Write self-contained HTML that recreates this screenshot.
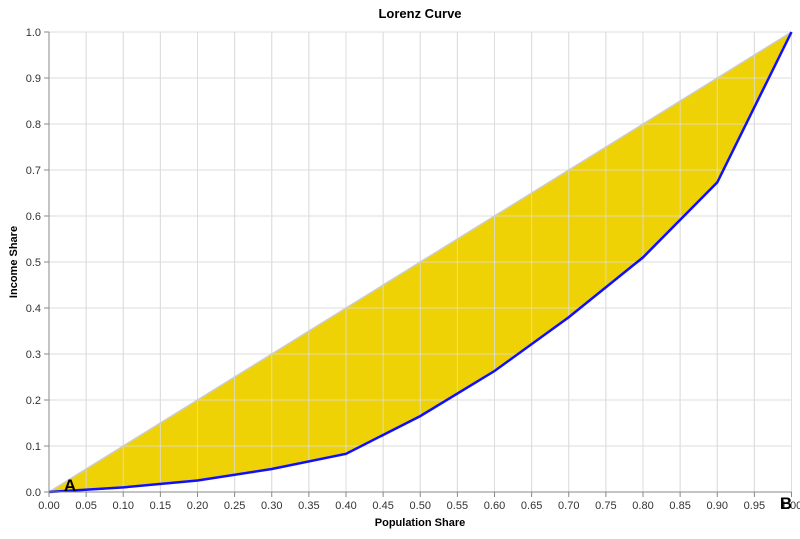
<!DOCTYPE html>
<html><head><meta charset="utf-8"><style>
body{margin:0;background:#fff;font-family:"Liberation Sans",sans-serif}
svg text{font-family:"Liberation Sans",sans-serif}
</style></head><body>
<svg id="chart" width="800" height="534">
<text x="420" y="18" text-anchor="middle" font-size="13" font-weight="bold" fill="#000">Lorenz Curve</text>
<g id="grid"></g>
<g id="marks"></g>
<g id="axes"></g>
<text x="420" y="526" text-anchor="middle" font-size="11" font-weight="bold">Population Share</text>
<text transform="translate(17,262) rotate(-90)" text-anchor="middle" font-size="11" font-weight="bold">Income Share</text>
</svg>
<script>
const popShare=[0,0.1,0.2,0.3,0.4,0.5,0.6,0.7,0.8,0.9,1.0];
const incomeShare=[0,0.01,0.025,0.05,0.083,0.165,0.263,0.38,0.51,0.673,1.0];
const xTicks=[0,0.05,0.1,0.15,0.2,0.25,0.3,0.35,0.4,0.45,0.5,0.55,0.6,0.65,0.7,0.75,0.8,0.85,0.9,0.95,1.0];
const yTicks=[0,0.1,0.2,0.3,0.4,0.5,0.6,0.7,0.8,0.9,1.0];
const X0=49,X1=791.5,Y0=492,Y1=32;
const sx=v=>X0+v*(X1-X0), sy=v=>Y0-v*(Y0-Y1);
const NS="http://www.w3.org/2000/svg";
function mk(t,a,p){const e=document.createElementNS(NS,t);for(const k in a)e.setAttribute(k,a[k]);p.appendChild(e);return e;}
const grid=document.getElementById('grid'),marks=document.getElementById('marks'),axes=document.getElementById('axes');
xTicks.forEach(t=>{
 const l=mk('line',{x1:sx(t),x2:sx(t),y1:Y1,y2:Y0,stroke:'#ddd','stroke-width':1},grid);
 
 
 const tk=mk('line',{x1:sx(t),x2:sx(t),y1:Y0,y2:Y0+5,stroke:'#888'},axes);
 
 
 const tx=mk('text',{x:sx(t),y:Y0+17,'text-anchor':'middle','font-size':11,fill:'#333'},axes);
 tx.textContent=t.toFixed(2);
 
 
});
yTicks.forEach(t=>{
 const l=mk('line',{x1:X0,x2:X1,y1:sy(t),y2:sy(t),stroke:'#ddd','stroke-width':1},grid);
 
 
 const tk=mk('line',{x1:X0-5,x2:X0,y1:sy(t),y2:sy(t),stroke:'#888'},axes);
 
 
 const tx=mk('text',{x:X0-8,y:sy(t)+4,'text-anchor':'end','font-size':11,fill:'#333'},axes);
 tx.textContent=t.toFixed(1);
 
 
});
let d='M'+sx(popShare[0])+','+sy(popShare[0]);
d+=' L'+sx(popShare[popShare.length-1])+','+sy(popShare[popShare.length-1]);
for(let i=popShare.length-1;i>=0;i--) d+=' L'+sx(popShare[i])+','+sy(incomeShare[i]);
const area=mk('path',{d:d+'Z',fill:'#eed205'},marks);


xTicks.forEach(t=>{const l=mk('line',{x1:sx(t),x2:sx(t),y1:Y1,y2:Y0,stroke:'#ddd','stroke-opacity':0.8},marks);
 
 });
yTicks.forEach(t=>{const l=mk('line',{x1:X0,x2:X1,y1:sy(t),y2:sy(t),stroke:'#ddd','stroke-opacity':0.8},marks);
 
 });
const eq=mk('line',{x1:sx(0),y1:sy(0),x2:sx(1),y2:sy(1),stroke:'#ccc','stroke-width':1.5},marks);


const lc=mk('polyline',{points:popShare.map((p,i)=>sx(p)+','+sy(incomeShare[i])).join(' '),fill:'none',stroke:'#1010ff','stroke-width':2.5},marks);


const xa=mk('line',{x1:X0,x2:X1,y1:Y0,y2:Y0,stroke:'#888'},axes);


const ya=mk('line',{x1:X0,x2:X0,y1:Y1,y2:Y0,stroke:'#888'},axes);


const a=mk('text',{x:70,y:Y0-1,'font-size':17,'font-weight':'bold','text-anchor':'middle',fill:'#000'},axes);
a.textContent='A';


const b=mk('text',{x:786,y:Y0+17,'font-size':17,'font-weight':'bold','text-anchor':'middle',fill:'#000'},axes);
b.textContent='B';


</script>
</body></html>
